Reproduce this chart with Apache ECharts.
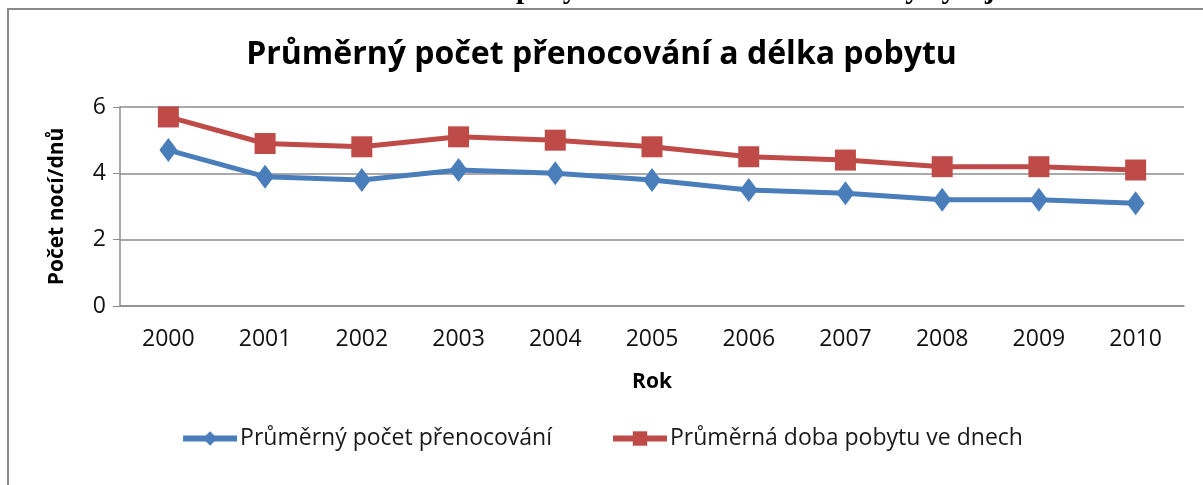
<!DOCTYPE html>
<html>
<head>
<meta charset="utf-8">
<script src="https://cdn.jsdelivr.net/npm/echarts@6/dist/echarts.min.js"></script>
<style>
    html, body { margin: 0; padding: 0; background: #fff; }
    #chart { width: 1203px; height: 485px; }
</style>
</head>
<body>
<div id="chart"></div>
<script>
var years = ["2000", "2001", "2002", "2003", "2004", "2005", "2006", "2007", "2008", "2009", "2010"];
var prenocovani = [4.7, 3.9, 3.8, 4.1, 4.0, 3.8, 3.5, 3.4, 3.2, 3.2, 3.1];
var dobaPobytu = [5.7, 4.9, 4.8, 5.1, 5.0, 4.8, 4.5, 4.4, 4.2, 4.2, 4.1];
var yTicks = [0, 2, 4, 6];

var font = "'Open Sans', 'Noto Sans', sans-serif";

var myChart = echarts.init(document.getElementById("chart"));
myChart.setOption({
    animation: false,
    title: {
        text: 'Průměrný počet přenocování a délka pobytu',
        left: 'center',
        top: 34,
        textStyle: {
            fontFamily: font,
            fontSize: 32,
            fontWeight: 'bold',
            color: '#000'
        }
    },
    graphic: [
        {
            type: 'text',
            left: 'center',
            top: -24,
            style: {
                text: 'Graf 6: Průměrná délka pobytu hostů v HUZ ČR celkový vývoj',
                font: 'bold 29px "Liberation Serif", serif',
                fill: '#000'
            }
        },
        {
            type: 'rect',
            shape: { x: 8, y: 9, width: 1300, height: 600 },
            style: { fill: '#fff', stroke: '#8a8a8a', lineWidth: 2 },
            z: -1
        }
    ],
    legend: {
        bottom: 30,
        left: 'center',
        itemWidth: 54,
        itemHeight: 18,
        itemGap: 58,
        lineStyle: { width: 6 },
        textStyle: {
            fontFamily: font,
            fontSize: 23,
            color: '#1a1a1a',
            padding: [0, 0, 0, -2]
        },
        data: ['Průměrný počet přenocování', 'Průměrná doba pobytu ve dnech']
    },
    grid: {
        left: 120,
        right: 19,
        top: 107,
        bottom: 179
    },
    xAxis: {
        type: 'category',
        data: years,
        boundaryGap: true,
        name: 'Rok',
        nameLocation: 'middle',
        nameGap: 66,
        nameTextStyle: {
            fontFamily: font,
            fontSize: 21,
            fontWeight: 'bold',
            color: '#000'
        },
        axisLine: { lineStyle: { color: '#8c8c8c', width: 1.5 } },
        axisTick: { length: 7, lineStyle: { color: '#8c8c8c' } },
        axisLabel: {
            fontFamily: font,
            fontSize: 23,
            color: '#111',
            margin: 22
        }
    },
    yAxis: {
        type: 'value',
        min: yTicks[0],
        max: yTicks[yTicks.length - 1],
        interval: 2,
        name: 'Počet nocí/dnů',
        nameLocation: 'middle',
        nameGap: 52,
        nameTextStyle: {
            fontFamily: font,
            fontSize: 21,
            fontWeight: 'bold',
            color: '#000'
        },
        axisLine: { show: true, lineStyle: { color: '#8c8c8c', width: 1.5 } },
        axisTick: { show: true, length: 7, lineStyle: { color: '#8c8c8c' } },
        splitLine: { lineStyle: { color: '#8c8c8c', width: 1.5 } },
        axisLabel: {
            fontFamily: font,
            fontSize: 23,
            color: '#111',
            margin: 14
        }
    },
    series: [
        {
            name: 'Průměrný počet přenocování',
            type: 'line',
            data: prenocovani,
            symbol: 'diamond',
            symbolSize: [18, 24],
            lineStyle: { color: '#4a7ebb', width: 5 },
            itemStyle: { color: '#4a7ebb' },
            z: 2
        },
        {
            name: 'Průměrná doba pobytu ve dnech',
            type: 'line',
            data: dobaPobytu,
            symbol: 'rect',
            symbolSize: 21,
            lineStyle: { color: '#be4b48', width: 5 },
            itemStyle: { color: '#be4b48' },
            z: 3
        }
    ]
});
</script>
</body>
</html>
